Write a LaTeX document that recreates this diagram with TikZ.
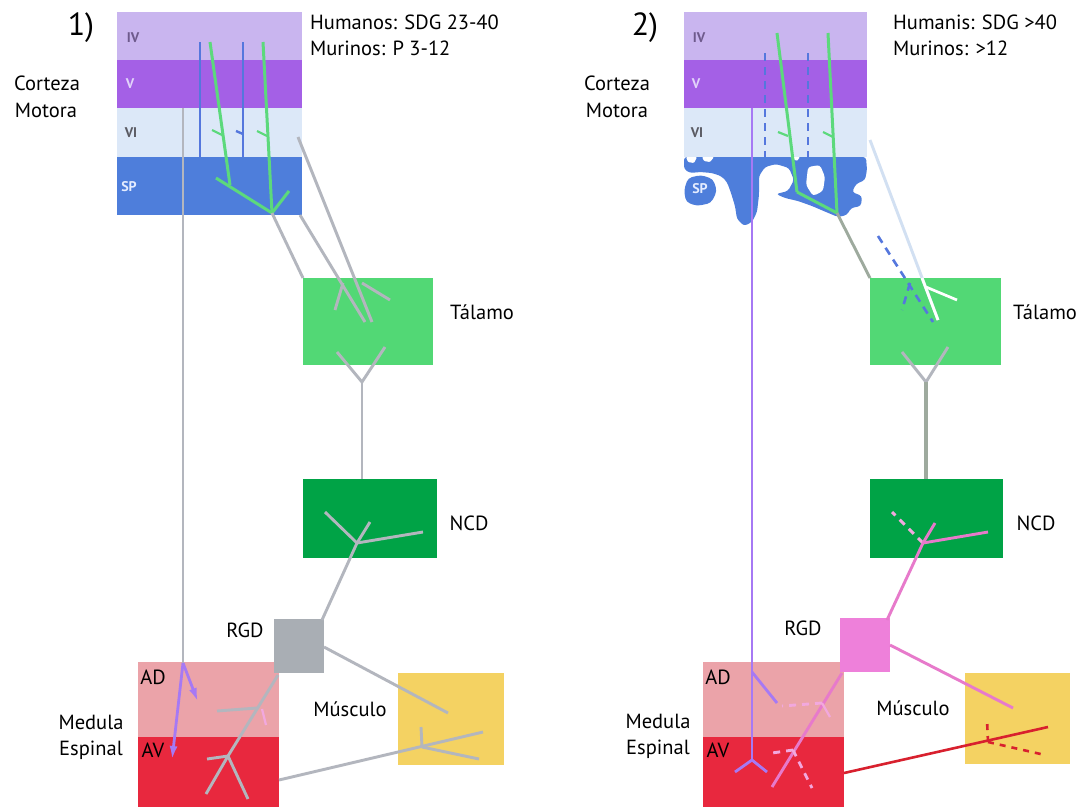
\documentclass[tikz,border=0pt]{standalone}
\usepackage{fontspec}
\setmainfont{PT Sans}
\usetikzlibrary{arrows.meta}
\definecolor{lIV}{HTML}{C9B5EF}
\definecolor{lV}{HTML}{A460E6}
\definecolor{lVI}{HTML}{DCE8F8}
\definecolor{lSP}{HTML}{4E7EDB}
\definecolor{thal}{HTML}{52D875}
\definecolor{ncd}{HTML}{00A346}
\definecolor{rgdgrey}{HTML}{A9AEB4}
\definecolor{rgdpink}{HTML}{EE80DA}
\definecolor{adc}{HTML}{EBA3A9}
\definecolor{avc}{HTML}{E8283E}
\definecolor{musc}{HTML}{F4D262}
\definecolor{axgrey}{HTML}{B3B6BE}
\definecolor{axgreygr}{HTML}{9EAA9E}
\definecolor{axgreen}{HTML}{5CD97C}
\definecolor{axblue}{HTML}{5577DD}
\definecolor{axpurple}{HTML}{A679F4}
\definecolor{axpink}{HTML}{E77ACB}
\definecolor{axpinkl}{HTML}{F2A8DE}
\definecolor{axred}{HTML}{D8202E}
\definecolor{axpale}{HTML}{D2E0F2}
\definecolor{labIV}{HTML}{6E5A8C}
\definecolor{labV}{HTML}{E2D4FA}
\definecolor{labVI}{HTML}{5A5A62}
\definecolor{labSP}{HTML}{E4ECFF}
\begin{document}
\begin{tikzpicture}[x=1pt,y=-1pt,
  bx/.style={inner sep=0pt, outer sep=0pt, anchor=north west, draw=none},
  lbl/.style={font=\fontsize{20.5}{24}\selectfont, inner sep=0pt, text=black},
  num/.style={font=\fontsize{32}{34}\selectfont, inner sep=0pt, text=black},
  lay/.style={font=\fontsize{14}{16}\selectfont\bfseries, inner sep=0pt},
  gax/.style={draw=axgrey, line width=2.9pt},
  grn/.style={draw=axgreen, line width=3pt},
  blu/.style={draw=axblue, line width=2.4pt},
  bluedash/.style={draw=axblue, line width=2.6pt, dash pattern=on 8pt off 6pt},
  pur/.style={draw=axpurple, line width=2.8pt},
  pnk/.style={draw=axpink, line width=2.9pt},
  pnkdash/.style={draw=axpinkl, line width=2.9pt, dash pattern=on 7pt off 6pt},
  red/.style={draw=axred, line width=2.6pt},
  reddash/.style={draw=axred, line width=2.6pt, dash pattern=on 6pt off 6pt},
  pale/.style={draw=axpale, line width=2.9pt},
  parrow/.style={draw=axpurple, line width=2.8pt, -{Latex[length=14pt,width=8pt]}}
]
\useasboundingbox (0,0) rectangle (1082,807);
\fill[white] (0,0) rectangle (1082,807);

% ================= PANEL 1 =================
\node[bx, fill=lIV, minimum width=185pt, minimum height=48pt] (ivA) at (117,12) {};
\node[bx, fill=lV, minimum width=185pt, minimum height=48pt] (vA) at (117,60) {};
\node[bx, fill=lVI, minimum width=185pt, minimum height=49pt] (viA) at (117,108) {};
\node[bx, fill=lSP, minimum width=185pt, minimum height=58pt] (spA) at (117,157) {};
\node[bx, fill=thal, minimum width=130pt, minimum height=87pt] (thA) at (303,278) {};
\node[bx, fill=ncd, minimum width=134pt, minimum height=79pt] (ncA) at (303,479) {};
\node[bx, fill=adc, minimum width=141pt, minimum height=75pt] (adA) at (138,662) {};
\node[bx, fill=avc, minimum width=141pt, minimum height=70pt] (avA) at (138,737) {};
\node[bx, fill=rgdgrey, minimum width=50pt, minimum height=54pt] (rgA) at (274,619) {};
\node[bx, fill=musc, minimum width=106pt, minimum height=92pt] (muA) at (398,673) {};

% cortex axons
\draw[blu] (200,42) -- (200,157);
\draw[blu] (243,42) -- (243,157);
\draw[blu] (236,131) -- (243,134);
\draw[grn] (210,42) -- (230,185);
\draw[grn] (263,42) -- (272,213);
\draw[grn] (216,178) -- (272,213) -- (289,191);
\draw[grn, line width=2.2pt] (212,130) -- (222,135);
\draw[grn, line width=2.2pt] (257,131) -- (267,136);

% long grey / purple tract
\coordinate (splitA) at (183,663);
\draw[gax] (183,108) -- (splitA);
\draw[parrow] (splitA) -- (198,702);
\draw[parrow] (splitA) -- (172,760);

% thalamic projections
\draw[gax] (300,215) -- (365,322);
\draw[gax] (343,283) -- (335,310);
\draw[gax] (298,137) -- (372,322);
\draw[gax] (362,283) -- (390,300);
\draw[gax] (272,213) -- (thA.north west);
% thalamus -> NCD
\coordinate (yA) at (362,382);
\draw[gax] (337,352) -- (yA) -- (385,347);
\draw[gax] (yA) -- (yA |- ncA.north);
% NCD tree
\coordinate (nA) at (357,543);
\draw[gax] (325,512) -- (nA);
\draw[gax] (370,522) -- (nA);
\draw[gax] (423,532) -- (nA);
\draw[gax] (nA) -- (322,620);
% RGD -> muscle
\draw[gax] (324,647) -- (448,713);
% RGD -> spinal
\draw[gax] (278,675) -- (228,756) -- (206,794);
\draw[gax] (257,708) -- (217,711);
\draw[draw=axpinkl, line width=2.2pt] (262,709) -- (266,725);
\draw[gax] (228,756) -- (207,759);
\draw[gax] (228,756) -- (248,799);
% spinal -> muscle
\coordinate (mA) at (422,747);
\draw[gax] (avA.east |- 0,780) -- (483,732);
\draw[gax] (mA) -- (421,727);
\draw[gax] (mA) -- (479,759);

% labels panel 1
\node[num] at (81,28) {1)};
\node[lbl, anchor=west] at (310,22) {Humanos: SDG 23-40};
\node[lbl, anchor=west] at (310,48) {Murinos: P 3-12};
\node[lbl] at (47,83) {Corteza};
\node[lbl] at (46,110) {Motora};
\node[lay, text=labIV] at (133,38) {IV};
\node[lay, text=labV] at (130,84) {V};
\node[lay, text=labVI] at (131,133) {VI};
\node[lay, text=labSP] at (129,187) {SP};
\node[lbl] at (482,312) {Tálamo};
\node[lbl] at (469,523) {NCD};
\node[lbl] at (245,630) {RGD};
\node[lbl] at (350,709) {Músculo};
\node[lbl] at (153,677) {AD};
\node[lbl] at (153,750) {AV};
\node[lbl] at (91,722) {Medula};
\node[lbl] at (91,750) {Espinal};

% ================= PANEL 2 =================
\node[bx, fill=lIV, minimum width=183pt, minimum height=48pt] (ivB) at (684,12) {};
\node[bx, fill=lV, minimum width=183pt, minimum height=48pt] (vB) at (684,60) {};
\node[bx, fill=lVI, minimum width=183pt, minimum height=49pt] (viB) at (684,108) {};
% fragmented subplate
\fill[lSP, rounded corners=3pt] (684,157) -- (866,157) -- (867,170) -- (865,180)
  -- (856,184) -- (852,192) -- (862,196) -- (861,206) -- (851,208) -- (847,215) -- (838,217)
  -- (826,212) -- (812,206) -- (798,201) -- (785,198) -- (776,194) -- (788,191)
  -- (794,180) -- (789,168) -- (776,164) -- (765,167) -- (759,176) -- (759,195)
  -- (757,212) -- (752,222) -- (744,226) -- (737,219) -- (735,206) -- (731,193)
  -- (727,182) -- (721,176) -- (712,173) -- (700,172) -- (690,173) -- (684,169) -- cycle;
\fill[lSP, rounded corners=4pt] (688,178) -- (701,175) -- (713,179) -- (717,191)
  -- (711,203) -- (697,206) -- (686,202) -- (684,190) -- cycle;
\fill[white, rounded corners=3pt] (808,167) -- (820,165) -- (825,177) -- (823,191)
  -- (813,196) -- (806,185) -- cycle;
\fill[white, rounded corners=1pt] (686,157) -- (697,157) -- (694,163) -- (688,162) -- cycle;
\fill[white, rounded corners=1pt] (702,157) -- (714,157) -- (710,162) -- (704,161) -- cycle;
\fill[white, rounded corners=1pt] (790,157) -- (800,157) -- (797,161) -- cycle;

\node[bx, fill=thal, minimum width=131pt, minimum height=87pt] (thB) at (870,278) {};
\node[bx, fill=ncd, minimum width=133pt, minimum height=79pt] (ncB) at (870,479) {};
\node[bx, fill=adc, minimum width=141pt, minimum height=75pt] (adB) at (703,662) {};
\node[bx, fill=avc, minimum width=141pt, minimum height=70pt] (avB) at (703,737) {};
\node[bx, fill=rgdpink, minimum width=50pt, minimum height=54pt] (rgB) at (840,618) {};
\node[bx, fill=musc, minimum width=105pt, minimum height=91pt] (muB) at (965,673) {};

% cortex axons
\draw[bluedash] (765,53) -- (765,157);
\draw[bluedash] (808,53) -- (808,157);
\draw[grn] (777,33) -- (797,192);
\draw[grn] (828,33) -- (837,213);
\draw[grn] (797,192) -- (837,213);
\draw[grn, line width=2.2pt] (778,132) -- (788,136);
\draw[grn, line width=2.2pt] (823,132) -- (833,137);

% purple corticospinal tract
\coordinate (splitB) at (752,672);
\coordinate (footB) at (752,760);
\draw[pur] (752,108) -- (footB);
\draw[pur] (splitB) -- (777,703);
\draw[pur] (footB) -- (735,772);
\draw[pur] (footB) -- (767,772);

% thalamic projections
\draw[pale] (870,140) -- (938,320);
\draw[draw=white, line width=2.7pt] (922,278) -- (938,320);
\draw[draw=white, line width=2.7pt] (926,287) -- (957,300);
\draw[bluedash] (878,236) -- (933,322);
\draw[bluedash] (910,283) -- (902,310);
\draw[draw=axgreygr, line width=2.9pt] (837,213) -- (thB.north west);
% thalamus -> NCD
\coordinate (yB) at (926,382);
\draw[gax] (902,352) -- (yB) -- (948,347);
\draw[draw=axgreygr, line width=3.1pt] (yB) -- (yB |- ncB.north);
% NCD tree (pink)
\coordinate (nB) at (923,543);
\draw[pnkdash] (nB) -- (892,512);
\draw[pnk] (935,523) -- (nB);
\draw[pnk] (988,532) -- (nB);
\draw[pnk] (nB) -- (887,620);
% RGD -> muscle
\draw[pnk] (890,645) -- (1013,708);
% RGD -> spinal
\draw[pnk] (842,673) -- (772,787);
\draw[pnkdash] (822,703) -- (782,706);
\draw[draw=axpinkl, line width=2.2pt] (822,703) -- (830,717);
\draw[pnkdash] (793,750) -- (772,753);
\draw[pnkdash] (793,750) -- (812,788);
% spinal -> muscle (red)
\coordinate (mB) at (988,742);
\draw[red] (avB.east |- 0,773) -- (1048,727);
\draw[reddash] (mB) -- (987,720);
\draw[reddash] (mB) -- (1045,755);

% labels panel 2
\node[num] at (645,28) {2)};
\node[lbl, anchor=west] at (893,22) {Humanis: SDG >40};
\node[lbl, anchor=west] at (893,48) {Murinos: >12};
\node[lbl] at (617,83) {Corteza};
\node[lbl] at (617,110) {Motora};
\node[lay, text=labIV] at (699,38) {IV};
\node[lay, text=labV] at (696,84) {V};
\node[lay, text=labVI] at (697,133) {VI};
\node[lay, text=labSP] at (700,189) {SP};
\node[lbl] at (1045,312) {Tálamo};
\node[lbl] at (1036,523) {NCD};
\node[lbl] at (803,628) {RGD};
\node[lbl] at (913,708) {Músculo};
\node[lbl] at (718,677) {AD};
\node[lbl] at (718,750) {AV};
\node[lbl] at (658,721) {Medula};
\node[lbl] at (658,749) {Espinal};
\end{tikzpicture}
\end{document}
